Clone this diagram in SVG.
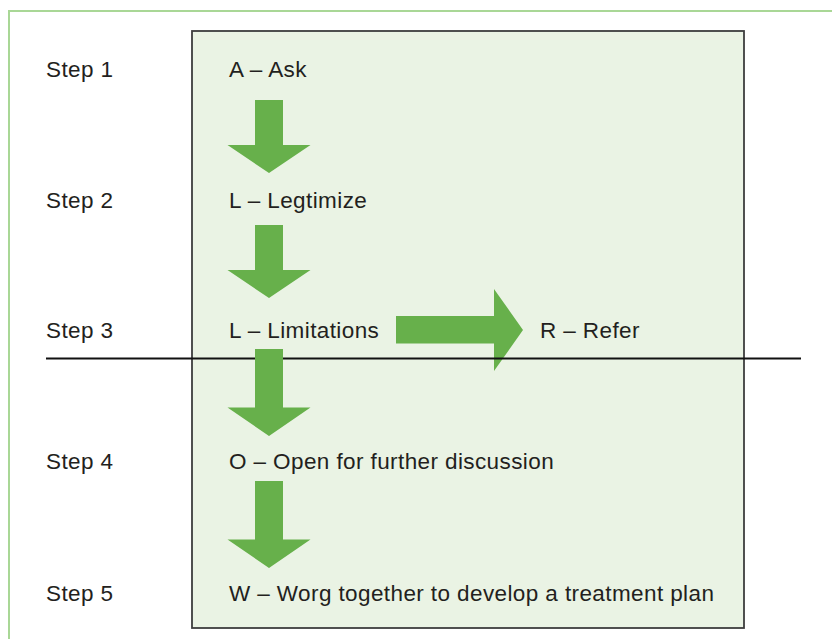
<svg xmlns="http://www.w3.org/2000/svg" width="832" height="639" viewBox="0 0 832 639">
<style>
.t{font-family:"Liberation Sans",Arial,sans-serif;font-size:22.5px;letter-spacing:0.4px;fill:#231f20}
.ar{fill:#67b04b}
</style>
<defs>
<polygon id="down" points="-14,0 14,0 14,45 41.5,45 0,73 -41.5,45 -14,45"/>
<polygon id="downL" points="-14,0 14,0 14,58.5 41.5,58.5 0,87 -41.5,58.5 -14,58.5"/>
</defs>
<rect x="9" y="11" width="840" height="650" fill="#ffffff" stroke="#a9d796" stroke-width="2"/>
<g id="box">
<rect x="192" y="31" width="552" height="597" fill="#eaf3e4" stroke="#3d3d3d" stroke-width="1.8"/>
</g>
<g id="steps">
<text class="t" x="46" y="77">Step 1</text>
<text class="t" x="46" y="208">Step 2</text>
<text class="t" x="46" y="338">Step 3</text>
<text class="t" x="46" y="469">Step 4</text>
<text class="t" x="46" y="601">Step 5</text>
</g>
<g id="n1"><text class="t" x="229" y="77">A – Ask</text></g>
<g id="n2"><text class="t" x="229" y="208">L – Legtimize</text></g>
<g id="n3"><text class="t" x="229" y="338">L – Limitations</text></g>
<g id="n4"><text class="t" x="229" y="469">O – Open for further discussion</text></g>
<g id="n5"><text class="t" x="229" y="601">W – Worg together to develop a treatment plan</text></g>
<g id="nR"><text class="t" x="540" y="338">R – Refer</text></g>
<g id="connectors">
<polygon class="ar" points="396,316 494,316 494,289 523,330 494,371 494,343.5 396,343.5"/>
<line x1="46" y1="358.5" x2="801" y2="358.5" stroke="#111" stroke-width="2.2"/>
<use href="#down" class="ar" x="269" y="100"/>
<use href="#down" class="ar" x="269" y="225"/>
<use href="#downL" class="ar" x="269" y="349"/>
<use href="#downL" class="ar" x="269" y="481"/>
</g>
</svg>
